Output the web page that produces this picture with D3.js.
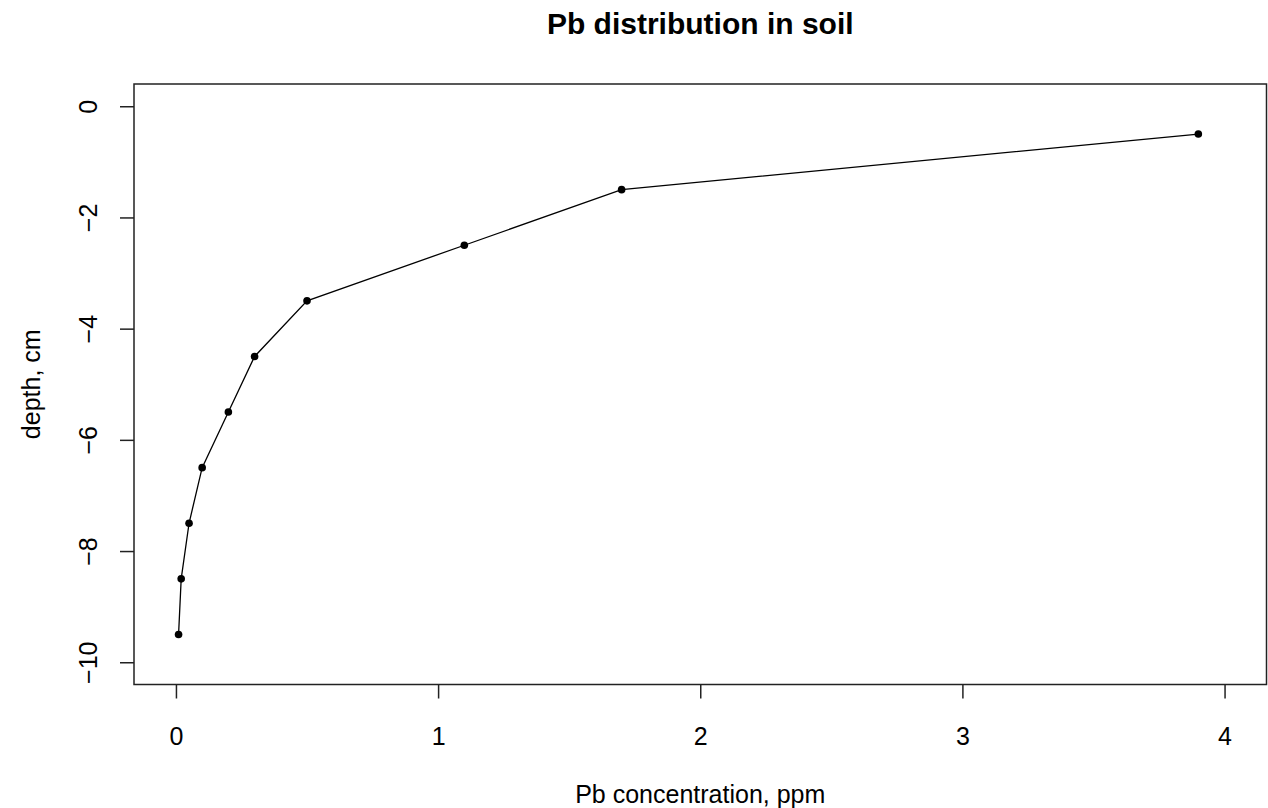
<!DOCTYPE html>
<html>
<head>
<meta charset="utf-8">
<script src="https://cdn.jsdelivr.net/npm/d3@7"></script>
<style>
html,body{margin:0;padding:0;background:#fff;}
svg{display:block;font-family:"Liberation Sans",Arial,sans-serif;}
</style>
</head>
<body>
<svg id="chart" width="1268" height="808"></svg>
<script>
const concentration = [3.9, 1.7, 1.1, 0.5, 0.3, 0.2, 0.1, 0.05, 0.02, 0.01];
const depth = [-0.5, -1.5, -2.5, -3.5, -4.5, -5.5, -6.5, -7.5, -8.5, -9.5];
const xTicks = [0, 1, 2, 3, 4];
const yTicks = [0, -2, -4, -6, -8, -10];
const titleText = "Pb distribution in soil";
const xLabel = "Pb concentration, ppm";
const yLabel = "depth, cm";

(function () {
const data = concentration.map((c, i) => ({x: c, y: depth[i]}));

const svg = d3.select("#chart");
const pLeft = 134, pRight = 1266.5, pTop = 84, pBottom = 684.5;

const x = d3.scaleLinear().domain([-0.16, 4.16]).range([pLeft, pRight]);
const y = d3.scaleLinear().domain([-10.4, 0.4]).range([pBottom, pTop]);

const fs = 25;

// box
svg.append("rect")
  .attr("x", pLeft).attr("y", pTop)
  .attr("width", pRight - pLeft).attr("height", pBottom - pTop)
  .attr("fill", "none").attr("stroke", "#222").attr("stroke-width", 1.5);

// x axis
const xAxis = d3.axisBottom(x).tickValues(xTicks).tickSize(14).tickPadding(10).tickFormat(d3.format("d"));
const gx = svg.append("g").attr("transform", `translate(0,${pBottom})`).call(xAxis);
gx.select(".domain").remove();
gx.selectAll(".tick line").attr("stroke", "#222").attr("stroke-width", 1.5);
gx.selectAll(".tick text").attr("font-size", fs).attr("fill", "#000")
  .attr("font-family", "Liberation Sans, Arial, sans-serif")
  .attr("dy", null).attr("y", 60);

// y axis
const yAxis = d3.axisLeft(y).tickValues(yTicks).tickSize(14).tickFormat(d3.format("d"));
const gy = svg.append("g").attr("transform", `translate(${pLeft},0)`).call(yAxis);
gy.select(".domain").remove();
gy.selectAll(".tick line").attr("stroke", "#222").attr("stroke-width", 1.5);
gy.selectAll(".tick text").attr("font-size", fs).attr("fill", "#000")
  .attr("font-family", "Liberation Sans, Arial, sans-serif")
  .attr("x", null).attr("dy", null)
  .attr("text-anchor", "middle")
  .attr("transform", "translate(-37,0) rotate(-90)");

// line
const line = d3.line().x(d => x(d.x)).y(d => y(d.y));
svg.append("path").datum(data)
  .attr("d", line).attr("fill", "none")
  .attr("stroke", "#000").attr("stroke-width", 1.3);

// points
svg.append("g").selectAll("circle").data(data).join("circle")
  .attr("cx", d => x(d.x)).attr("cy", d => y(d.y))
  .attr("r", 3.8).attr("fill", "#000");

// title
svg.append("text").attr("x", (pLeft + pRight) / 2).attr("y", 34)
  .attr("text-anchor", "middle").attr("font-size", 30).attr("font-weight", "bold")
  .attr("fill", "#000").text(titleText);

// x label
svg.append("text").attr("x", (pLeft + pRight) / 2).attr("y", 803)
  .attr("text-anchor", "middle").attr("font-size", fs).attr("fill", "#000").text(xLabel);

// y label
svg.append("text")
  .attr("transform", `translate(40,${(pTop + pBottom) / 2}) rotate(-90)`)
  .attr("text-anchor", "middle").attr("font-size", fs).attr("fill", "#000").text(yLabel);
})();
</script>
</body>
</html>
